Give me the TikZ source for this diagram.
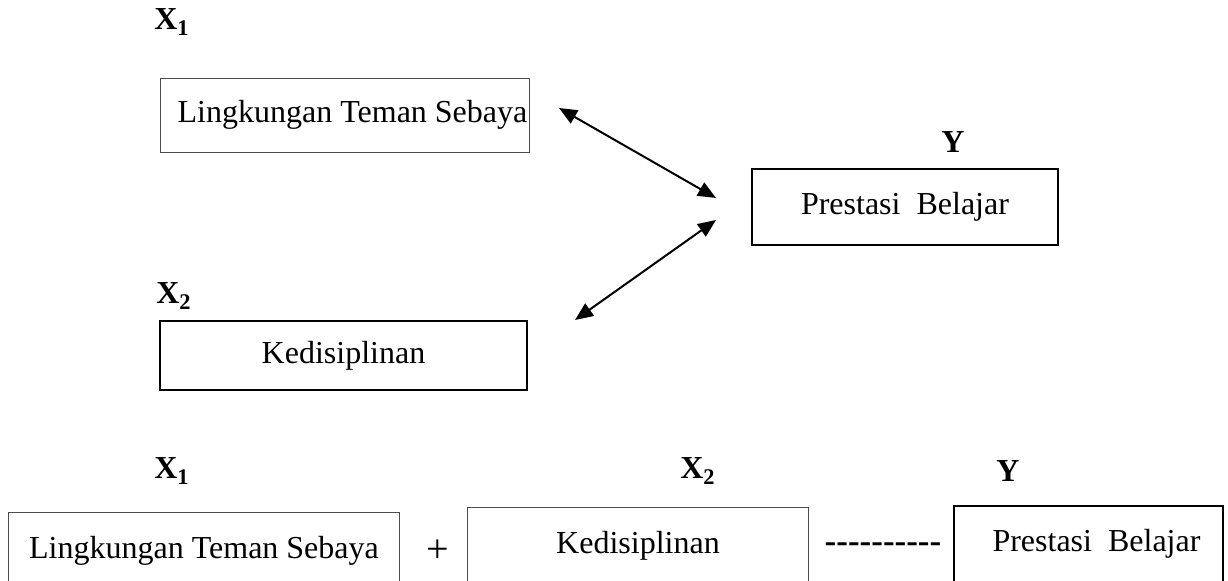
\documentclass[tikz,border=0pt]{standalone}
\usepackage{fontspec}
\setmainfont{Liberation Serif}
\usetikzlibrary{arrows.meta,positioning}
\newcommand{\dgfont}{\fontsize{16}{19}\selectfont}
\tikzset{
    box/.style={
        rectangle,
        draw=black!70,
        line width=0.5pt,
        inner sep=0pt,
    },
    thickbox/.style={
        box,
        draw=black,
        line width=1pt,
    },
    var/.style={
        font=\dgfont\bfseries,
        inner sep=0pt,
    },
}

\begin{document}
\begin{tikzpicture}[x=0.5pt,y=-0.5pt,>={Triangle[length=9pt,width=7.5pt]},every node/.style={font=\dgfont}]
    \useasboundingbox (0,0) rectangle (1228,580);
    \clip (0,0) rectangle (1228,580);
    % upper diagram
    \node [var] (X1) at (172,22) {X\textsubscript{1}};
    \node [box, minimum width=184.5pt, minimum height=37pt] (LTS) at (344.5,115) {\hspace*{8pt}Lingkungan Teman Sebaya};
    \node [var] (Y) at (953,142) {Y};
    \node [thickbox, minimum width=153pt, minimum height=38pt] (PB) at (905,207) {Prestasi\ \ Belajar};
    \node [var] (X2) at (174,296) {X\textsubscript{2}};
    \node [thickbox, minimum width=183.5pt, minimum height=34.5pt] (KD) at (343.5,355.5) {Kedisiplinan};
    \coordinate (LTS-e) at (559,108);
    \coordinate (PB-n) at (716,198);
    \coordinate (PB-s) at (716,220);
    \coordinate (KD-e) at (575,320);
    \path[<->, line width=1pt] (LTS-e) edge (PB-n);
    \path[<->, line width=1pt] (PB-s) edge (KD-e);
    % lower row
    \node [var] (X1b) at (172,471) {X\textsubscript{1}};
    \node [var] (X2b) at (698,471) {X\textsubscript{2}};
    \node [var] (Yb) at (1008,471) {Y};
    \node [box, anchor=north west, minimum width=195.5pt, minimum height=38pt] (LTSb) at (8,512) {Lingkungan Teman Sebaya};
    \node [font=\fontsize{20}{24}\selectfont] (plus) at (438,551) {+};
    \node [box, anchor=north west, minimum width=170.5pt, minimum height=38pt] (KDb) at (467,507) {Kedisiplinan};
    \node [var, font=\fontsize{17.5}{20}\selectfont\bfseries] (dash) at (883,548) {{-}{-}{-}{-}{-}{-}{-}{-}{-}{-}};
    \node [thickbox, anchor=north west, minimum width=134.5pt, minimum height=38pt] (PBb) at (953,505) {\hspace*{8pt}Prestasi\ \ Belajar};
\end{tikzpicture}
\end{document}
